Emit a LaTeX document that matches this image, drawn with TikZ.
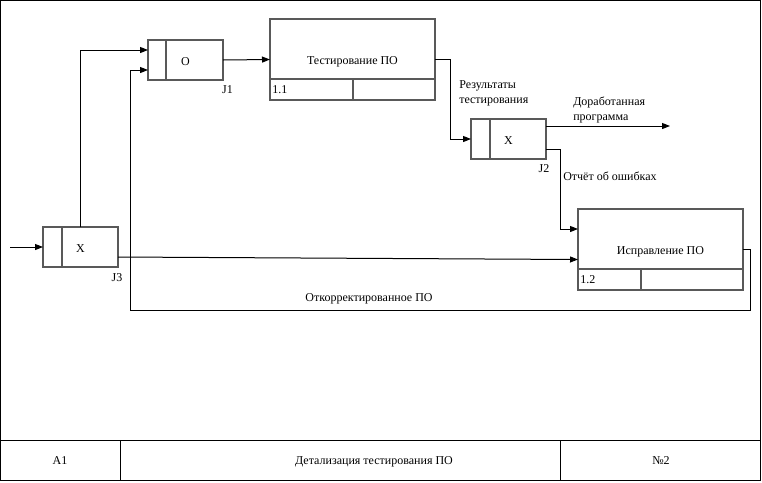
\documentclass[tikz,border=0pt]{standalone}
\usepackage{fontspec}
\setmainfont{Liberation Serif}
\usetikzlibrary{arrows.meta,positioning,calc}

\tikzset{
	boxline/.style={draw=black!65, line width=1.1pt},
	jbox/.style={boxline, minimum width=56.25pt, minimum height=30pt,
		inner sep=0pt, outer sep=0pt, text height=7.5pt, text depth=0pt,
		font=\fontsize{9}{10}\selectfont},
	actbox/.style={boxline, minimum width=123.75pt, minimum height=60.75pt,
		inner sep=0pt, outer sep=0pt, text height=7.5pt, text depth=0pt,
		font=\fontsize{9}{10}\selectfont},
	flow/.style={line width=0.75pt, -{Triangle[length=6pt,width=4.5pt]}},
	line/.style={line width=0.75pt},
	lbl/.style={inner sep=0pt, text height=6.5pt, text depth=2pt,
		yshift=-0.75pt, font=\fontsize{9}{11}\selectfont},
	mlbl/.style={lbl, text height={}, text depth={}, anchor=north west, align=left}
}

\begin{document}
\begin{tikzpicture}[x=0.75pt, y=-0.75pt]
\useasboundingbox (0,0) rectangle (762,482);

% frame and footer
\draw[line] (0.5,0.5) rectangle (760.5,480.5);
\draw[line] (0.5,440.5) -- (760.5,440.5);
\draw[line] (120.5,440.5) -- (120.5,480.5);
\draw[line] (560.5,440.5) -- (560.5,480.5);
\node[lbl] (ftA) at (60,460) {A1};
\node[lbl] (ftT) at (374,460) {Детализация тестирования ПО};
\node[lbl] (ftN) at (661,460) {№2};

% junctions
\node[jbox] (j3) at (80.5,247) {X};
\node[jbox] (j1) at (185.5,60) {O};
\node[jbox] (j2) at (508.5,139) {X};
\draw[boxline] (j3.north west) ++(19,0) -- ++(0,40);
\draw[boxline] (j1.north west) ++(18,0) -- ++(0,40);
\draw[boxline] (j2.north west) ++(19,0) -- ++(0,40);
\node[lbl] (j1lbl) at (227.5,89) {J1};
\node[lbl] (j2lbl) at (544,168) {J2};
\node[lbl] (j3lbl) at (117,277) {J3};

% activities
\node[actbox] (a11) at (352.5,59.5) {Тестирование ПО};
\node[actbox] (a12) at (660.5,249.5) {Исправление ПО};
\foreach \b/\d/\n in {a11/83/1.1, a12/63/1.2}{
	\draw[boxline] (\b.south west) ++(0,-21) -- ++(165,0);
	\draw[boxline] (\b.south west) ++(\d,0) -- ++(0,-21);
	\node[lbl, anchor=west] at ($(\b.south west)+(2,-10.5)$) {\n};
}

% arrows
\coordinate (in) at (10,247);
\coordinate (out) at (670,126);
\coordinate (back) at (130,310);
\draw[flow] (in) -- (j3.west);
\draw[flow] (j3.north) |- ($(j1.west)+(0,-10)$);
\draw[flow] ($(j3.east)+(0,10)$) -- ($(a12.west)+(0,10)$);
\draw[flow] (j1.east) -- (a11.west);
\draw[flow] (a11.east) -- ++(15,0) |- (j2.west);
\draw[flow] ($(j2.east)+(0,-13)$) -- (out);
\draw[flow] ($(j2.east)+(0,10)$) -- ++(14,0) |- ($(a12.west)+(0,-20.5)$);
\draw[flow] (a12.east) -- ++(7,0) |- (back) |- ($(j1.west)+(0,10)$);

% arrow labels
\node[mlbl] (res) at (459,79.5) {Результаты\\тестирования};
\node[mlbl] (done) at (573,96) {Доработанная\\программа};
\node[lbl, anchor=west] (rep) at (563,176) {Отчёт об ошибках};
\node[lbl] (fixd) at (369,297) {Откорректированное ПО};
\end{tikzpicture}
\end{document}
